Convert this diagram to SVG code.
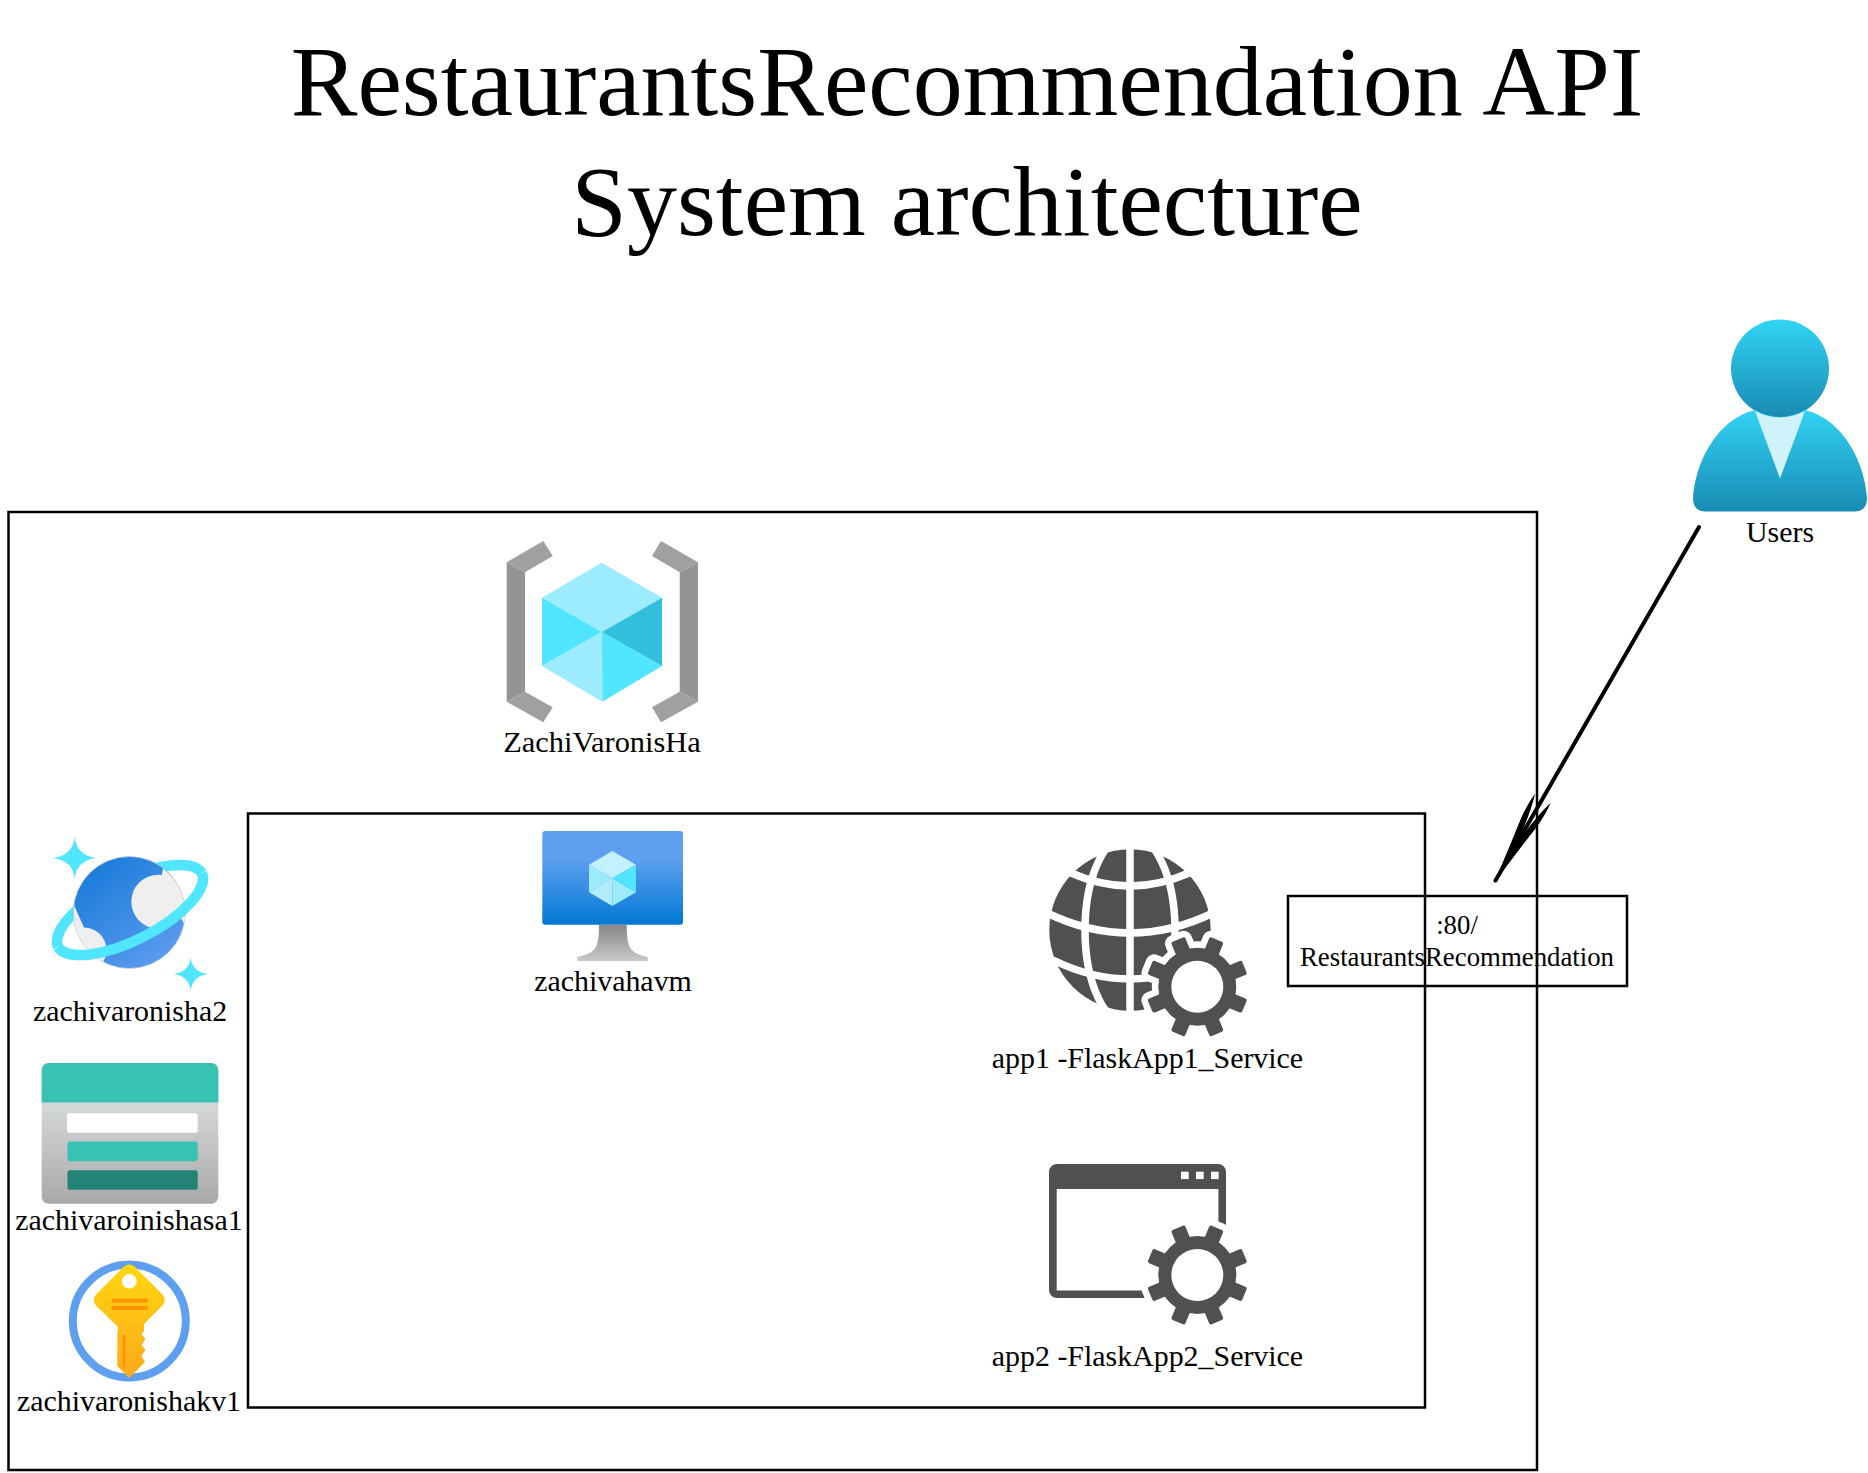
<svg xmlns="http://www.w3.org/2000/svg" xmlns:xlink="http://www.w3.org/1999/xlink" width="1868" height="1473" viewBox="0 0 1868 1473">
<style>
text{font-family:"Liberation Serif","Times New Roman",serif;fill:#000;text-anchor:middle}
.title{font-size:100px}
.lbl{font-size:29.9px}
.box{font-size:26.8px}
.frame{fill:none;stroke:#000;stroke-width:2.5}
.edge{fill:none;stroke:#000;stroke-width:4;stroke-linecap:round}
.dark{fill:#505050}
.gl{fill:none;stroke:#fff;stroke-width:7.5}
.halo{fill:#fff;stroke:#fff;stroke-width:13;stroke-linejoin:round}
</style>
<defs>
<linearGradient id="gUser" x1="0" y1="0" x2="0" y2="1"><stop offset="0" stop-color="#32d4f5"/><stop offset="1" stop-color="#198ab3"/></linearGradient>
<linearGradient id="gVm" x1="0" y1="0" x2="0" y2="1"><stop offset="0" stop-color="#5ea0ef"/><stop offset=".3" stop-color="#5ea0ef"/><stop offset="1" stop-color="#0078d4"/></linearGradient>
<linearGradient id="gStand" x1="0" y1="0" x2="0" y2="1"><stop offset="0" stop-color="#878787"/><stop offset="1" stop-color="#c8c8c8"/></linearGradient>
<linearGradient id="gPlanet" x1="0.15" y1="0.1" x2="0.85" y2="0.95"><stop offset="0" stop-color="#1b7cdb"/><stop offset="1" stop-color="#5e9cee"/></linearGradient>
<linearGradient id="gStore" x1="0" y1="0" x2="0" y2="1"><stop offset="0" stop-color="#e8ecec"/><stop offset="1" stop-color="#a8a8a8"/></linearGradient>
<linearGradient id="gKey" x1="0" y1="0" x2="0" y2="1"><stop offset="0" stop-color="#ffd70f"/><stop offset="1" stop-color="#ffa91b"/></linearGradient>
<clipPath id="cPlanet"><circle cx="129.3" cy="913.3" r="56"/></clipPath>
<g id="gearBody">
<circle cx="0" cy="0" r="39"/>
<rect x="-7.5" y="-51" width="15" height="17" rx="2" transform="rotate(22.5)"/>
<rect x="-7.5" y="-51" width="15" height="17" rx="2" transform="rotate(67.5)"/>
<rect x="-7.5" y="-51" width="15" height="17" rx="2" transform="rotate(112.5)"/>
<rect x="-7.5" y="-51" width="15" height="17" rx="2" transform="rotate(157.5)"/>
<rect x="-7.5" y="-51" width="15" height="17" rx="2" transform="rotate(202.5)"/>
<rect x="-7.5" y="-51" width="15" height="17" rx="2" transform="rotate(247.5)"/>
<rect x="-7.5" y="-51" width="15" height="17" rx="2" transform="rotate(292.5)"/>
<rect x="-7.5" y="-51" width="15" height="17" rx="2" transform="rotate(337.5)"/>
</g>
<g id="gear">
<use href="#gearBody" class="halo"/>
<use href="#gearBody" class="dark"/>
<circle cx="0" cy="0" r="26" fill="#fff"/>
</g>
<marker id="arrow" markerUnits="userSpaceOnUse" markerWidth="110" markerHeight="30" viewBox="-100 -15 110 30" refX="0" refY="0" orient="auto" overflow="visible">
<path d="M3 0L-35 -4.6L-67 -9Q-84 -10.5 -95 -9Q-80 -4.5 -57 -1.5L-57 1.5Q-80 4.5 -95 9Q-84 10.5 -67 9L-35 4.6Z" fill="#000"/>
</marker>
</defs>
<rect width="1868" height="1473" fill="#fff"/>
<text class="title" x="967" y="115">RestaurantsRecommendation API</text>
<text class="title" x="967" y="235">System architecture</text>

<g id="group-subscription"><rect class="frame" x="8.5" y="512" width="1528.5" height="958"/></g>
<g id="group-resources"><rect class="frame" x="248" y="813.5" width="1177" height="594"/></g>

<g id="node-ZachiVaronisHa">
<path fill="#a0a0a0" d="M543.3 541L506.7 562.3L525 572.3L552.7 556Z"/>
<path fill="#949494" d="M506.7 562.3L525 572.3V691.7L506.7 701.7Z"/>
<path fill="#a0a0a0" d="M506.7 701.7L543.3 722.3L552.7 707.3L525 691.7Z"/>
<path fill="#a0a0a0" d="M661 541L698 562.3L679.7 572.3L652 556Z"/>
<path fill="#949494" d="M698 562.3L679.7 572.3V691.7L698 701.7Z"/>
<path fill="#a0a0a0" d="M698 701.7L661 722.3L652 707.3L679.7 691.7Z"/>
<path fill="#9cebff" d="M601.7 562.7L662 597.7L602 632L542 597.7Z"/>
<path fill="#50e6ff" d="M542 597.7L602 632L542 666Z"/>
<path fill="#9cebff" d="M542 666L602 632L602.3 701.7Z"/>
<path fill="#50e6ff" d="M602.3 701.7L602 632L662 666Z"/>
<path fill="#32bedd" d="M602 632L662 597.7V666Z"/>
<text class="lbl" x="602" y="752" style="font-size:30.4px">ZachiVaronisHa</text>
</g>

<g id="node-zachivahavm">
<rect x="542.3" y="831" width="140.7" height="93.7" rx="3" fill="url(#gVm)"/>
<path fill="url(#gStand)" d="M599 924.7H626.7C626.7 948 630 953 647.7 957V961H577.3V957C596 953 599 948 599 924.7Z"/>
<path fill="#c3f1ff" d="M612.3 851L636 864.7L612.3 878.3L589 864.7Z"/>
<path fill="#9cebff" d="M589 864.7L612.3 878.3L589 892.3Z"/>
<path fill="#b3ecff" d="M589 892.3L612.3 878.3V906Z"/>
<path fill="#9cebff" d="M612.3 906V878.3L636 892.3Z"/>
<path fill="#50e6ff" d="M612.3 878.3L636 864.7V892.3Z"/>
<text class="lbl" x="613" y="991">zachivahavm</text>
</g>

<g id="node-zachivaronisha2">
<path d="M58 947A81 31 -27 0 1 202 873" fill="none" stroke="#50e6ff" stroke-width="10.5"/>
<circle cx="129.3" cy="912.5" r="56" fill="url(#gPlanet)"/>
<g clip-path="url(#cPlanet)">
<circle cx="158.3" cy="901.7" r="27" fill="#efefef"/>
<path d="M163 868A56 56 0 0 1 185 925L160 885Z" fill="#efefef"/>
<circle cx="84" cy="950" r="22.5" fill="#efefef"/>
<path d="M74 905L73 935L85 930Z" fill="#efefef"/>
</g>
<circle cx="129.3" cy="912.5" r="56" fill="none" stroke="#d8d8d8" stroke-width=".7"/>
<path d="M58 947A81 31 -27 0 0 202 873" fill="none" stroke="#50e6ff" stroke-width="10.5"/>
<path fill="#50e6ff" d="M74.7 836Q76 855 96 858Q76 861 74.7 879.5Q73.4 861 53.4 858Q73.4 855 74.7 836Z"/>
<path fill="#50e6ff" d="M190.7 957Q192 972 208 974Q192 976 190.7 991.5Q189.4 976 173.7 974Q189.4 972 190.7 957Z"/>
<text class="lbl" x="130" y="1021">zachivaronisha2</text>
</g>

<g id="node-zachivaroinishasa1">
<rect x="41.7" y="1063" width="176.6" height="140.7" rx="7" fill="url(#gStore)"/>
<path fill="#37c2b1" d="M48.7 1063H211.3a7 7 0 0 1 7 7V1102.4H41.7V1070a7 7 0 0 1 7 -7Z"/>
<rect x="67" y="1113.2" width="130.7" height="19.6" rx="2.5" fill="#fff"/>
<rect x="67.5" y="1141.5" width="130.2" height="19.7" rx="2.5" fill="#37c2b1"/>
<rect x="67.5" y="1170.2" width="130.2" height="19.6" rx="2.5" fill="#258277"/>
<text class="lbl" x="129" y="1230">zachivaroinishasa1</text>
</g>

<g id="node-zachivaronishakv1">
<circle cx="129.3" cy="1321" r="56.5" fill="#fff" stroke="#5ea0ef" stroke-width="8"/>
<path fill="url(#gKey)" d="M124 1266.5Q129.3 1262.5 134.6 1266.5L162.5 1294.5Q167 1300 162.5 1305.5L144 1324V1331L141.5 1334L145.5 1339L141.5 1345L145.5 1350L141.5 1356L145 1362L129.3 1378L117.3 1366V1333.5L118 1327L96 1305.5Q91.5 1300 96 1294.5Z"/>
<circle cx="129.3" cy="1281.3" r="7.3" fill="#fff"/>
<rect x="111.7" y="1298.7" width="36" height="4" fill="#ff9300"/>
<rect x="111.7" y="1306" width="36" height="4" fill="#ff9300"/>
<rect x="122.7" y="1335" width="2.6" height="32" fill="#ff9300"/>
<text class="lbl" x="129" y="1411">zachivaronishakv1</text>
</g>

<g id="node-app1">
<circle class="dark" cx="1130" cy="930" r="80.7"/>
<path class="gl" d="M1130 845V1015"/>
<ellipse class="gl" cx="1130" cy="930" rx="45" ry="96"/>
<path class="gl" d="M1071 873Q1130 899 1189 873M1047 913Q1130 953 1213 913M1053 960Q1130 998 1207 960"/>
<use href="#gear" x="1197.3" y="986.7"/>
<text class="lbl" x="1147.5" y="1068">app1 -FlaskApp1_Service</text>
</g>

<g id="node-app2">
<path class="dark" fill-rule="evenodd" d="M1057 1164H1218a8 8 0 0 1 8 8V1290a8 8 0 0 1 -8 8H1057a8 8 0 0 1 -8 -8V1172a8 8 0 0 1 8 -8ZM1056.7 1189V1290.6H1218.4V1189Z"/>
<rect x="1181" y="1171.7" width="7.7" height="7.4" fill="#fff"/>
<rect x="1196" y="1171.7" width="7.7" height="7.4" fill="#fff"/>
<rect x="1211" y="1171.7" width="7.7" height="7.4" fill="#fff"/>
<use href="#gear" x="1197.3" y="1275"/>
<text class="lbl" x="1147.5" y="1366">app2 -FlaskApp2_Service</text>
</g>

<g id="node-users">
<circle cx="1780" cy="368.5" r="49" fill="url(#gUser)"/>
<path fill="url(#gUser)" d="M1755 410C1715 420 1695 465 1693 498Q1693 511.6 1706 511.6H1854Q1867 511.6 1867 498C1865 465 1845 420 1805 410Q1780 424 1755 410Z"/>
<path fill="#d0f3fb" d="M1755 411Q1780 424 1805 411L1780 478.6Z"/>
<text class="lbl" x="1780" y="541.5">Users</text>
</g>

<g id="node-endpoint">
<rect class="frame" x="1288" y="896" width="339" height="90"/>
<text class="box" x="1457" y="933.5">:80/</text>
<text class="box" x="1457" y="966">RestaurantsRecommendation</text>
</g>

<g id="connectors">
<path class="edge" d="M1699 527L1495.5 880.5" marker-end="url(#arrow)"/>
</g>
</svg>
